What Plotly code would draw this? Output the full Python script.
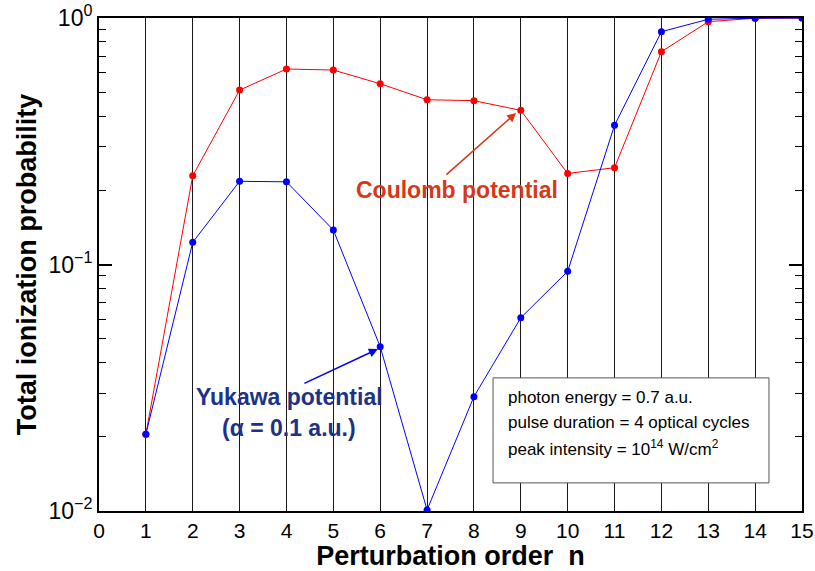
import plotly.graph_objects as go

n_order = list(range(1, 16))
coulomb = [0.0205, 0.229, 0.510, 0.621, 0.615, 0.541, 0.466, 0.462, 0.422, 0.234, 0.247, 0.730, 0.966, 0.998, 1.0]
yukawa = [0.0205, 0.123, 0.2175, 0.2165, 0.138, 0.0464, 0.0101, 0.0291, 0.0608, 0.0938, 0.367, 0.880, 0.988, 0.998, 1.0]

x_ticks = list(range(0, 16))
y_tickvals = [0.01, 0.1, 1]
y_ticktext = ["10<sup>−2</sup>", "10<sup>−1</sup>", "10<sup>0</sup>"]
minor_vals = [k * 0.01 for k in range(2, 10)] + [k * 0.1 for k in range(2, 10)]

info_lines = ["photon energy = 0.7 a.u.",
              "pulse duration = 4 optical cycles",
              "peak intensity = 10<sup>14</sup> W/cm<sup>2</sup>"]

FONT = "Liberation Sans, Arial, Helvetica, sans-serif"

fig = go.Figure()
fig.add_trace(go.Scatter(x=n_order, y=coulomb, mode="lines+markers",
                         line=dict(color="#ff0000", width=1),
                         marker=dict(color="#ff0000", size=7), name="Coulomb"))
fig.add_trace(go.Scatter(x=n_order, y=yukawa, mode="lines+markers",
                         line=dict(color="#0000ff", width=1),
                         marker=dict(color="#0000ff", size=7), name="Yukawa"))

fig.update_layout(
    width=815, height=571,
    margin=dict(l=99, r=13, t=18, b=60),
    paper_bgcolor="white", plot_bgcolor="white",
    showlegend=False,
    font=dict(family=FONT, color="black"),
)
fig.update_xaxes(
    range=[0, 15], tickvals=x_ticks, ticktext=[str(v) for v in x_ticks],
    showgrid=True, gridcolor="#1a1a1a", gridwidth=1,
    showline=True, linecolor="black", linewidth=2, mirror=True,
    ticks="", tickfont=dict(size=21, family=FONT),
    zeroline=False, automargin=False,
    title=dict(text="<b>Perturbation order  n</b>", font=dict(size=27, family=FONT), standoff=2),
)
fig.update_yaxes(
    type="log", range=[-2, 0],
    tickvals=y_tickvals, ticktext=y_ticktext,
    ticks="inside", ticklen=13, tickwidth=1.5, tickcolor="black",
    minor=dict(ticks="inside", ticklen=7, tickwidth=1, tickcolor="black",
               tickvals=minor_vals, showgrid=False),
    showgrid=False, showline=True, linecolor="black", linewidth=2, mirror="ticks",
    tickfont=dict(size=23, family=FONT), automargin=False,
    title=dict(text="<b>Total ionization probability</b>", font=dict(size=27, family=FONT), standoff=4),
)

# Info box
fig.add_shape(type="rect", xref="paper", yref="paper",
              x0=0.5605, x1=0.953, y0=0.057, y1=0.27,
              line=dict(color="#555555", width=1), fillcolor="white", layer="above")
for line_text, ypos in zip(info_lines, [0.2312, 0.1805, 0.1278]):
    fig.add_annotation(xref="paper", yref="paper", x=0.579, y=ypos,
                       xanchor="left", yanchor="middle", align="left", showarrow=False,
                       text=line_text, font=dict(size=17, family=FONT, color="black"))

# Coulomb label + arrow
cc = "#d8381a"
fig.add_annotation(x=8.90, y=-0.385, ax=7.38, ay=-0.641, xref="x", yref="y",
                   axref="x", ayref="y", text="", showarrow=True,
                   arrowhead=2, arrowsize=1.2, arrowwidth=1.5, arrowcolor=cc)
fig.add_annotation(x=7.64, y=-0.698, xref="x", yref="y", showarrow=False,
                   text="<b>Coulomb potential</b>", font=dict(size=23, family=FONT, color=cc))

# Yukawa label + arrow
yc = "#1c3287"
fig.add_annotation(x=5.95, y=-1.343, ax=4.35, ay=-1.485, xref="x", yref="y",
                   axref="x", ayref="y", text="", showarrow=True,
                   arrowhead=2, arrowsize=1.2, arrowwidth=1.5, arrowcolor="#0000ff")
fig.add_annotation(x=4.07, y=-1.538, xref="x", yref="y", showarrow=False,
                   text="<b>Yukawa potential</b>", font=dict(size=23, family=FONT, color=yc))
fig.add_annotation(x=4.06, y=-1.664, xref="x", yref="y", showarrow=False,
                   text="<b>(α = 0.1 a.u.)</b>", font=dict(size=23, family=FONT, color=yc))

fig.write_html("out.html", config={"displayModeBar": False},
               post_script="document.body.style.margin='0';")
